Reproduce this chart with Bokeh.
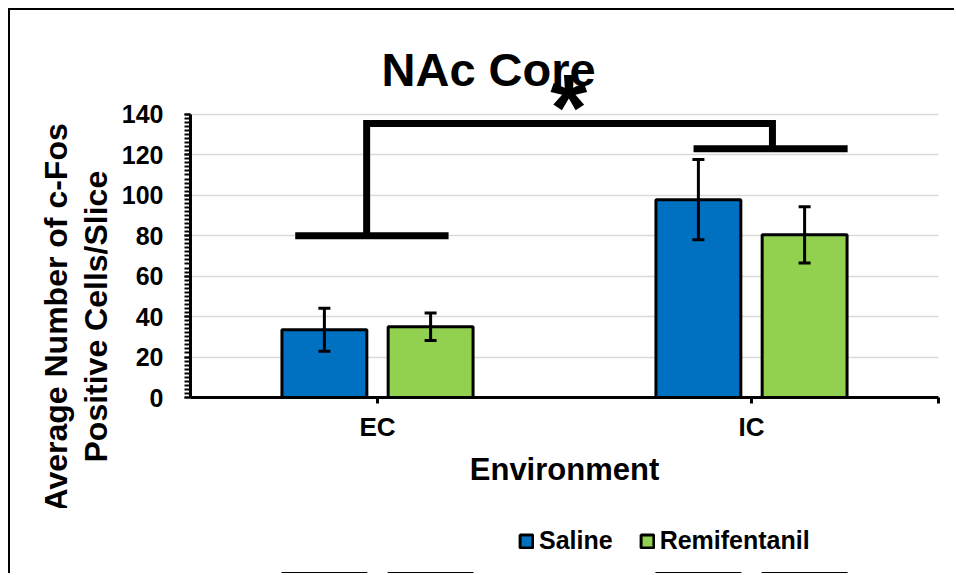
from bokeh.plotting import figure
from bokeh.layouts import column
from bokeh.models import (ColumnDataSource, Range1d, FixedTicker, SingleIntervalTicker,
                          Whisker, TeeHead, Label, Legend, LegendItem, Title)
from bokeh.embed import file_html
from bokeh.resources import INLINE

# ---- data ----
categories = ["EC", "IC"]
groups = ["Saline", "Remifentanil"]
saline_mean = [33.5, 97.8]
saline_err = [10.6, 19.8]
remi_mean = [35.0, 80.4]
remi_err = [6.8, 13.9]
colors = ["#0070C0", "#92D050"]
y_tick_step = 20
y_max = 140
chart_title = "NAc Core"

# significance brackets (data units)
ec_bracket_x = [0.28, 0.69]
ec_bracket_y = [80, 80]
ic_bracket_x = [1.345, 1.757]
ic_bracket_y = [123, 123]
top_bracket_x = [0.471, 0.471, 1.556, 1.556]
top_bracket_y = [80, 135.5, 135.5, 123]
star_x, star_y = 1.011, 143.5

FONT = "Liberation Sans"
n_cat = len(categories)
centers = [i + 0.5 for i in range(n_cat)]
offset = 0.142
bar_w = 0.227

W = 946
H_MAIN = 500
H_LEG = 65
y_top = 191.3   # frame extends above y_max to hold title and star

p = figure(width=W, height=H_MAIN, output_backend="svg", toolbar_location=None,
           x_range=Range1d(0, n_cat), y_range=Range1d(0, y_top),
           min_border_left=180, min_border_right=18, min_border_top=0,
           min_border_bottom=113)
p.title.text = ""
p.title.text_font_size = "1px"
p.title.standoff = 0
p.margin = (8, 0, 0, 8)
p.styles = {"border-left": "2px solid black", "border-top": "2px solid black"}
p.outline_line_color = None
p.background_fill_color = "white"
p.border_fill_color = "white"

sources = []
for gi, (means, errs) in enumerate([(saline_mean, saline_err), (remi_mean, remi_err)]):
    xs = [c + (-offset if gi == 0 else offset) for c in centers]
    src = ColumnDataSource(dict(x=xs, top=means,
                                upper=[m + e for m, e in zip(means, errs)],
                                lower=[m - e for m, e in zip(means, errs)]))
    sources.append(src)
    p.vbar(x="x", top="top", width=bar_w, bottom=0, source=src,
           fill_color=colors[gi], line_color="black", line_width=3)
    w = Whisker(base="x", upper="upper", lower="lower", source=src, level="annotation",
                line_color="black", line_width=3,
                upper_head=TeeHead(size=12, line_width=3, line_color="black"),
                lower_head=TeeHead(size=12, line_width=3, line_color="black"))
    p.add_layout(w)

# brackets
p.line(top_bracket_x, top_bracket_y, line_color="black", line_width=7, line_join="miter")
p.line(ec_bracket_x, ec_bracket_y, line_color="black", line_width=7)
p.line(ic_bracket_x, ic_bracket_y, line_color="black", line_width=7)

# chart title (inside the frame, above the value area)
p.add_layout(Label(x=0.797, y=161.9, text=chart_title, text_align="center",
                   text_baseline="alphabetic", text_font=FONT, text_font_style="bold",
                   text_font_size="47px", text_color="black"))

# significance star
p.add_layout(Label(x=star_x, y=star_y, text="*", text_align="center",
                   text_baseline="middle", text_font=FONT, text_font_style="bold",
                   text_font_size="95px", text_color="black"))

# y-axis title, two lines, as side titles
for txt, off, so in [("Positive Cells/Slice", -65, 10), ("Average Number of c-Fos", -114, -6)]:
    t = Title(text=txt, align="left", offset=off, standoff=so, text_font=FONT,
              text_font_style="bold", text_font_size="32px", text_color="black")
    p.add_layout(t, "left")

# grid
p.xgrid.visible = False
p.ygrid.grid_line_color = "#d9d9d9"
p.ygrid.grid_line_width = 1.5
p.ygrid.bounds = (0, y_max)

# y axis
p.yaxis.bounds = (0, y_max)
p.yaxis.ticker = SingleIntervalTicker(interval=y_tick_step, num_minor_ticks=10)
p.yaxis.axis_line_width = 3
p.yaxis.axis_line_color = "black"
p.yaxis.major_tick_out = 6
p.yaxis.major_tick_in = 0
p.yaxis.major_tick_line_width = 2
p.yaxis.minor_tick_out = 6
p.yaxis.minor_tick_in = 0
p.yaxis.minor_tick_line_width = 2
p.yaxis.major_label_standoff = 21
p.yaxis.major_label_text_font = FONT
p.yaxis.major_label_text_font_style = "bold"
p.yaxis.major_label_text_font_size = "25px"
p.yaxis.major_label_text_color = "black"

# x axis
p.xaxis.ticker = FixedTicker(ticks=centers + [n_cat])
overrides = {c: name for c, name in zip(centers, categories)}
overrides[n_cat] = ""
p.xaxis.major_label_overrides = overrides
p.xaxis.axis_line_width = 3
p.xaxis.axis_line_color = "black"
p.xaxis.major_tick_out = 6
p.xaxis.major_tick_in = 0
p.xaxis.major_tick_line_width = 3
p.xaxis.minor_tick_line_color = None
p.xaxis.major_label_standoff = 8
p.xaxis.major_label_text_font = FONT
p.xaxis.major_label_text_font_style = "bold"
p.xaxis.major_label_text_font_size = "26px"
p.xaxis.major_label_text_color = "black"
p.xaxis.axis_label = "Environment"
p.xaxis.axis_label_standoff = 7
p.xaxis.axis_label_text_font = FONT
p.xaxis.axis_label_text_font_style = "bold"
p.xaxis.axis_label_text_font_size = "31px"
p.xaxis.axis_label_text_color = "black"

# ---- legend strip below the chart ----
p2 = figure(width=W, height=H_LEG, output_backend="svg", toolbar_location=None,
            x_range=Range1d(0, n_cat), y_range=Range1d(1000, 1001),
            min_border=0, x_axis_location=None, y_axis_location=None)
p2.title.text = ""
p2.title.text_font_size = "1px"
p2.title.standoff = 0
p2.margin = (0, 0, 0, 8)
p2.styles = {"border-left": "2px solid black"}
p2.outline_line_color = None
p2.background_fill_color = "white"
p2.border_fill_color = "white"
p2.xgrid.visible = False
p2.ygrid.visible = False
leg_renderers = []
for gi, src in enumerate(sources):
    r = p2.vbar(x="x", top="top", width=bar_w, bottom=0, source=src,
                fill_color=colors[gi], line_color="black", line_width=3)
    leg_renderers.append(r)

legend = Legend(items=[LegendItem(label=g, renderers=[r]) for g, r in zip(groups, leg_renderers)],
                location=(328, 18), orientation="horizontal",
                label_text_font=FONT, label_text_font_style="bold",
                label_text_font_size="25px", label_text_color="black",
                glyph_width=16, glyph_height=16, label_standoff=5, spacing=26,
                padding=0, margin=0, border_line_color=None, background_fill_alpha=0)
p2.add_layout(legend)

layout = column(p, p2, spacing=0)
open("out.html", "w").write(file_html(layout, INLINE))
